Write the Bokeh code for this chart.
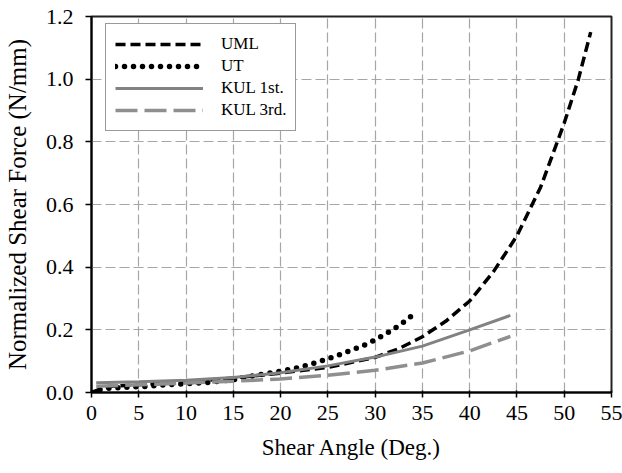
from bokeh.plotting import figure
from bokeh.models import FixedTicker, PrintfTickFormatter, Range1d, Legend, LegendItem
from bokeh.embed import file_html
from bokeh.resources import INLINE

# ---- data ----
uml_x = [0, 1, 2, 5, 10, 15, 20, 25, 30, 32.5, 35, 37.5, 40, 42.5, 45, 47.5, 50, 51.5, 52.8]
uml_y = [0, 0.012, 0.02, 0.025, 0.033, 0.046, 0.062, 0.08, 0.112, 0.14, 0.178, 0.228, 0.292, 0.385,
         0.5, 0.655, 0.86, 1.0, 1.15]

ut_x = [0, 1, 2, 4, 6, 8, 10, 12, 15, 18, 20, 22, 24, 25, 26, 27, 28, 29, 30, 31, 32, 33, 34, 34.4]
ut_y = [0, 0.01, 0.014, 0.017, 0.02, 0.025, 0.028, 0.031, 0.041, 0.058, 0.068, 0.08, 0.098,
        0.108, 0.118, 0.13, 0.141, 0.153, 0.168, 0.185, 0.203, 0.224, 0.248, 0.258]

kul1_x = [0.5, 5, 10, 15, 20, 25, 30, 35, 40, 44.3]
kul1_y = [0.031, 0.034, 0.039, 0.048, 0.063, 0.085, 0.113, 0.148, 0.2, 0.246]

kul3_x = [0.5, 5, 10, 15, 20, 25, 30, 35, 40, 44.3]
kul3_y = [0.02, 0.025, 0.03, 0.036, 0.043, 0.055, 0.071, 0.094, 0.133, 0.179]

x_ticks = [0, 5, 10, 15, 20, 25, 30, 35, 40, 45, 50, 55]
y_ticks = [0.0, 0.2, 0.4, 0.6, 0.8, 1.0, 1.2]

FONT = "Liberation Serif"

p = figure(width=622, height=473, output_backend="svg", toolbar_location=None,
           x_range=Range1d(0, 55), y_range=Range1d(0, 1.2),
           min_border_left=91, min_border_right=11, min_border_top=16, min_border_bottom=81)

p.background_fill_color = "white"
p.border_fill_color = "white"
p.outline_line_color = "#222222"
p.outline_line_width = 2

# grid
for g in (p.xgrid[0], p.ygrid[0]):
    g.grid_line_color = "#a6a6a6"
    g.grid_line_width = 1.2
    g.grid_line_dash = "10 4"

# axes
p.xaxis.ticker = FixedTicker(ticks=x_ticks)
p.yaxis.ticker = FixedTicker(ticks=y_ticks)
p.yaxis.formatter = PrintfTickFormatter(format="%.1f")
p.xaxis.formatter = PrintfTickFormatter(format="%d")
for ax in (p.xaxis[0], p.yaxis[0]):
    ax.axis_line_color = "black"
    ax.axis_line_width = 2
    ax.major_tick_line_color = "black"
    ax.major_tick_line_width = 1.5
    ax.minor_tick_line_color = None
    ax.major_label_text_font = FONT
    ax.major_label_text_font_size = "22px"
    ax.major_label_text_color = "black"
    ax.axis_label_text_font = FONT
    ax.axis_label_text_font_style = "normal"
    ax.axis_label_text_color = "black"

p.xaxis.axis_label_text_font_size = "23px"
p.yaxis.axis_label_text_font_size = "25px"
p.xaxis.major_tick_in = 2
p.xaxis.major_tick_out = 5
p.yaxis.major_tick_in = 0
p.yaxis.major_tick_out = 6
p.xaxis.major_label_standoff = 8
p.yaxis.major_label_standoff = 12
p.xaxis.axis_label = "Shear Angle (Deg.)"
p.yaxis.axis_label = "Normalized Shear Force (N/mm)"
p.xaxis.axis_label_standoff = 12
p.yaxis.axis_label_standoff = 12

r_uml = p.line(uml_x, uml_y, line_color="black", line_width=3.5, line_dash="10 5")
r_ut = p.line(ut_x, ut_y, line_color="black", line_width=5.5, line_dash="0 9", line_cap="round")
r_k1 = p.line(kul1_x, kul1_y, line_color="#828282", line_width=3)
r_k3 = p.line(kul3_x, kul3_y, line_color="#8f8f8f", line_width=3.5, line_dash="22 7")

legend = Legend(items=[
    LegendItem(label="UML", renderers=[r_uml]),
    LegendItem(label="UT", renderers=[r_ut]),
    LegendItem(label="KUL 1st.", renderers=[r_k1]),
    LegendItem(label="KUL 3rd.", renderers=[r_k3]),
], location=(14, 261))
legend.label_text_font = FONT
legend.label_text_font_size = "17px"
legend.label_text_color = "black"
legend.glyph_width = 88
legend.glyph_height = 22
legend.label_height = 22
legend.spacing = 0
legend.padding = 9
legend.margin = 0
legend.label_standoff = 18
legend.border_line_color = "#333333"
legend.border_line_width = 1.5
legend.background_fill_color = "white"
legend.background_fill_alpha = 1
p.add_layout(legend, "center")

open("out.html", "w").write(file_html(p, INLINE))
